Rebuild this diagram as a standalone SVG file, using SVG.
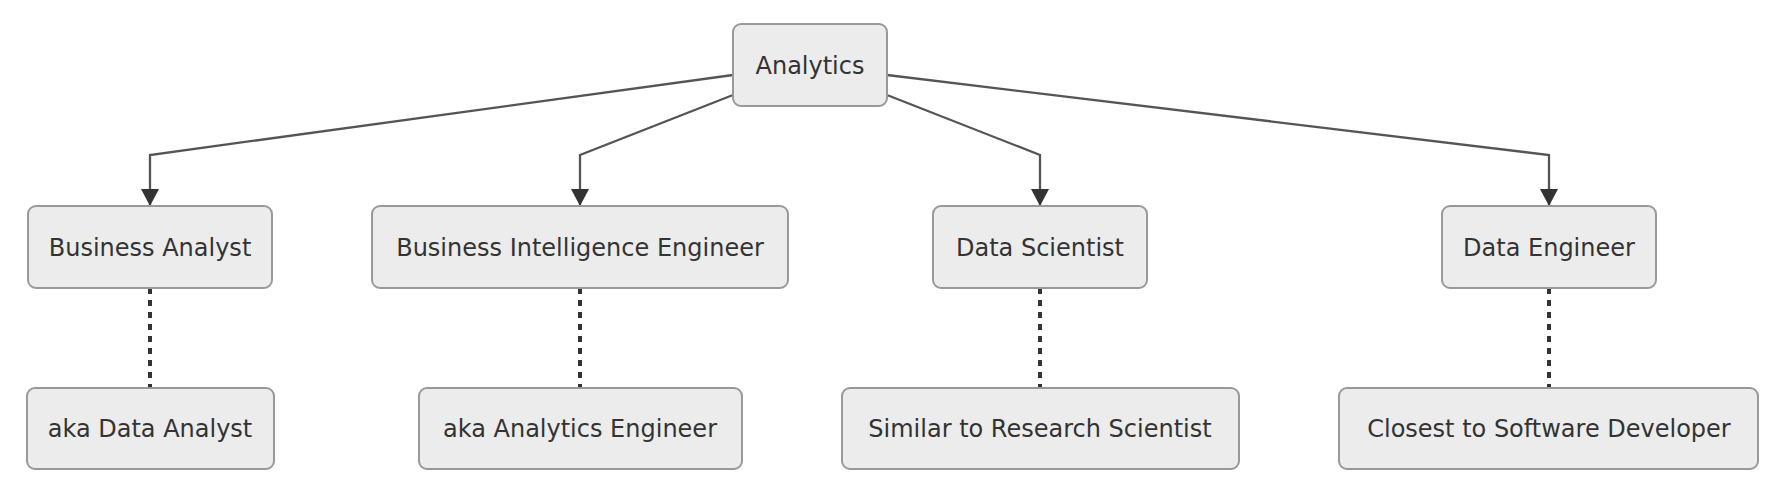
<svg xmlns="http://www.w3.org/2000/svg" width="1784" height="496" viewBox="0 0 1784 496">
<style>
.node rect{fill:#ececec;stroke:#999;stroke-width:2}
.node text{font-family:"DejaVu Sans",sans-serif;font-size:24px;fill:#333;text-anchor:middle}
.edge{fill:none;stroke:#555;stroke-width:2.3}
.dot{fill:none;stroke:#333;stroke-width:4;stroke-dasharray:6 6}
</style>
<defs>
<marker id="arrow" markerUnits="userSpaceOnUse" markerWidth="18" markerHeight="18" viewBox="0 0 17 18" refX="17" refY="9" orient="auto">
<path d="M0,0 L17,9 L0,18 z" fill="#333"/>
</marker>
</defs>
<rect width="1784" height="496" fill="#fff"/>
<g id="connectors">
<path class="edge" d="M733,75 L150,155 L150,206" marker-end="url(#arrow)"/>
<path class="edge" d="M733,95 L580,155 L580,206" marker-end="url(#arrow)"/>
<path class="edge" d="M887,95 L1040,155 L1040,206" marker-end="url(#arrow)"/>
<path class="edge" d="M887,75 L1549,155 L1549,206" marker-end="url(#arrow)"/>
<path class="dot" d="M150,288 L150,387"/>
<path class="dot" d="M580,288 L580,387"/>
<path class="dot" d="M1040,288 L1040,387"/>
<path class="dot" d="M1549,288 L1549,387"/>
</g>
<g id="analytics" class="node"><rect x="733" y="24" width="154" height="82" rx="8"/><text x="810" y="74">Analytics</text></g>
<g id="business-analyst" class="node"><rect x="28" y="206" width="244" height="82" rx="8"/><text x="150" y="256">Business Analyst</text></g>
<g id="bi-engineer" class="node"><rect x="372" y="206" width="416" height="82" rx="8"/><text x="580" y="256">Business Intelligence Engineer</text></g>
<g id="data-scientist" class="node"><rect x="933" y="206" width="214" height="82" rx="8"/><text x="1040" y="256">Data Scientist</text></g>
<g id="data-engineer" class="node"><rect x="1442" y="206" width="214" height="82" rx="8"/><text x="1549" y="256">Data Engineer</text></g>
<g id="aka-data-analyst" class="node"><rect x="27" y="388" width="247" height="81" rx="8"/><text x="150" y="437">aka Data Analyst</text></g>
<g id="aka-analytics-engineer" class="node"><rect x="419" y="388" width="323" height="81" rx="8"/><text x="580" y="437">aka Analytics Engineer</text></g>
<g id="similar-research-scientist" class="node"><rect x="842" y="388" width="397" height="81" rx="8"/><text x="1040" y="437">Similar to Research Scientist</text></g>
<g id="closest-software-developer" class="node"><rect x="1339" y="388" width="419" height="81" rx="8"/><text x="1549" y="437">Closest to Software Developer</text></g>
</svg>
